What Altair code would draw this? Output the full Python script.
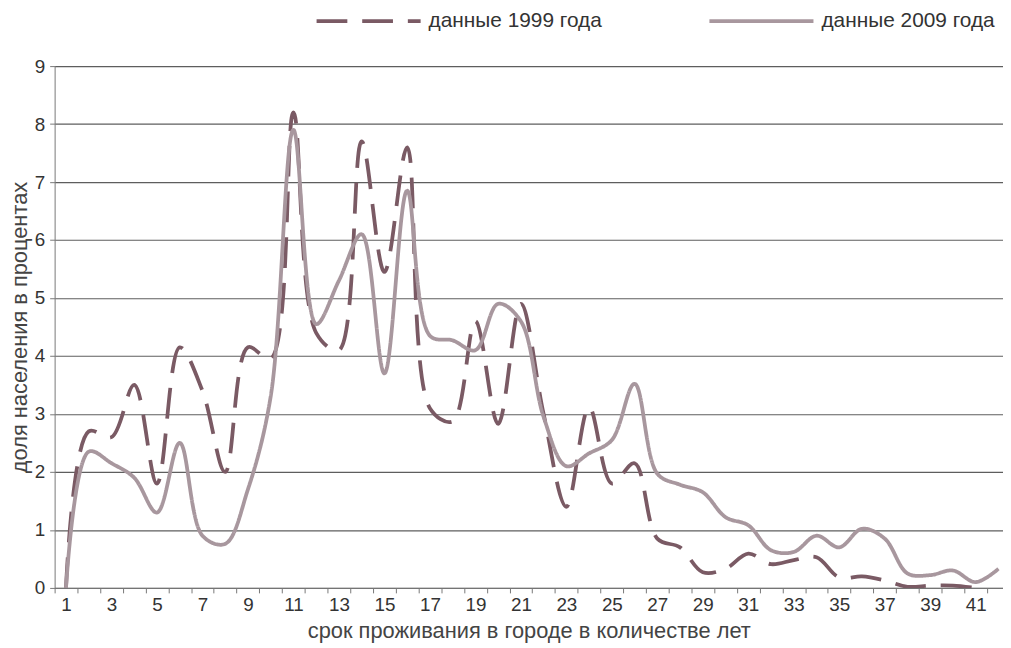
import altair as alt
import pandas as pd

# category: years of residence in the city
years = list(range(1, 43))
x_tick_labels = [str(v) for v in range(1, 42, 2)]
y_tick_values = list(range(0, 10))

series_names = ["данные 1999 года", "данные 2009 года"]

share_1999 = [0.0, 2.7, 2.6, 3.5, 1.8, 4.15, 3.4, 2.0, 4.15, 3.95,
              8.2, 4.4, 4.1, 7.7, 5.45, 7.6, 3.1, 2.87, 4.6, 2.83,
              4.9, 3.0, 1.4, 3.12, 1.8, 2.15, 0.85, 0.7, 0.27, 0.33,
              0.59, 0.41, 0.48, 0.53, 0.18, 0.2, 0.13, 0.02, 0.04, 0.04,
              0.0]

share_2009 = [0.0, 2.35, 2.15, 1.9, 1.3, 2.5, 0.9, 0.76, 1.7, 3.3,
              7.9, 4.55, 5.3, 6.1, 3.7, 6.85, 4.35, 4.27, 4.1, 4.9,
              4.6, 2.95, 2.1, 2.32, 2.55, 3.52, 1.97, 1.78, 1.65, 1.22,
              1.08, 0.65, 0.62, 0.9, 0.7, 1.02, 0.85, 0.25, 0.22, 0.3,
              0.1, 0.33]

rows = []
for k, v in zip(years, share_1999):
    rows.append({"t": k, "v": v, "s": series_names[0]})
for k, v in zip(years, share_2009):
    rows.append({"t": k, "v": v, "s": series_names[1]})
df = pd.DataFrame(rows)

FONT = "Liberation Sans"
tick_positions = [k - 0.5 for k in years]  # category boundaries
label_expr = ("indexof(" + str(x_tick_labels).replace("'", '"') +
              ", format(datum.value + 0.5, 'd')) >= 0 ? format(datum.value + 0.5, 'd') : ''")

legend_opts = dict(
    title=None, orient="none", legendX=262, legendY=-100, direction="horizontal",
    symbolType="stroke", symbolSize=11000, symbolStrokeWidth=3.8,
    labelFontSize=21, labelColor="#333", labelOffset=6, labelLimit=400,
    columnPadding=100, padding=0,
)

chart = alt.Chart(df).mark_line(
    interpolate="catmull-rom", strokeWidth=3.8, strokeCap="butt", clip=True
).encode(
    x=alt.X("t:Q",
            scale=alt.Scale(domain=[0.5, 42.2], nice=False, zero=False),
            axis=alt.Axis(values=tick_positions, labelExpr=label_expr,
                          labelOffset=11.5, labelOverlap=False, labelFlush=False,
                          grid=False, tickSize=5, tickColor="#777", domainColor="#777",
                          labelFontSize=19, labelPadding=3, labelColor="#333",
                          title="срок проживания в городе в количестве лет",
                          titleFontSize=22, titleFontWeight="normal", titleColor="#444",
                          titlePadding=6)),
    y=alt.Y("v:Q",
            scale=alt.Scale(domain=[0, 9], nice=False),
            axis=alt.Axis(values=y_tick_values, grid=True, gridColor="#5e5e5e", gridWidth=1.1,
                          tickSize=5, tickColor="#777", domainColor="#777",
                          labelFontSize=19, labelPadding=5, labelColor="#333",
                          title="доля населения в процентах",
                          titleFontSize=22, titleFontWeight="normal", titleColor="#444",
                          titlePadding=3)),
    color=alt.Color("s:N",
                    scale=alt.Scale(domain=series_names, range=["#7a5a64", "#a8979e"]),
                    legend=alt.Legend(**legend_opts)),
    strokeDash=alt.StrokeDash("s:N",
                              scale=alt.Scale(domain=series_names, range=[[31, 15], [1, 0]]),
                              legend=alt.Legend(**legend_opts)),
).properties(
    width=956, height=526,
    autosize=alt.AutoSizeParams(type="none"),
    padding={"left": 47, "top": 56, "right": 0, "bottom": 58},
).configure(
    font=FONT,
).configure_view(
    stroke=None,
)

chart.save("out.html", embed_options={"renderer": "svg", "actions": False})
